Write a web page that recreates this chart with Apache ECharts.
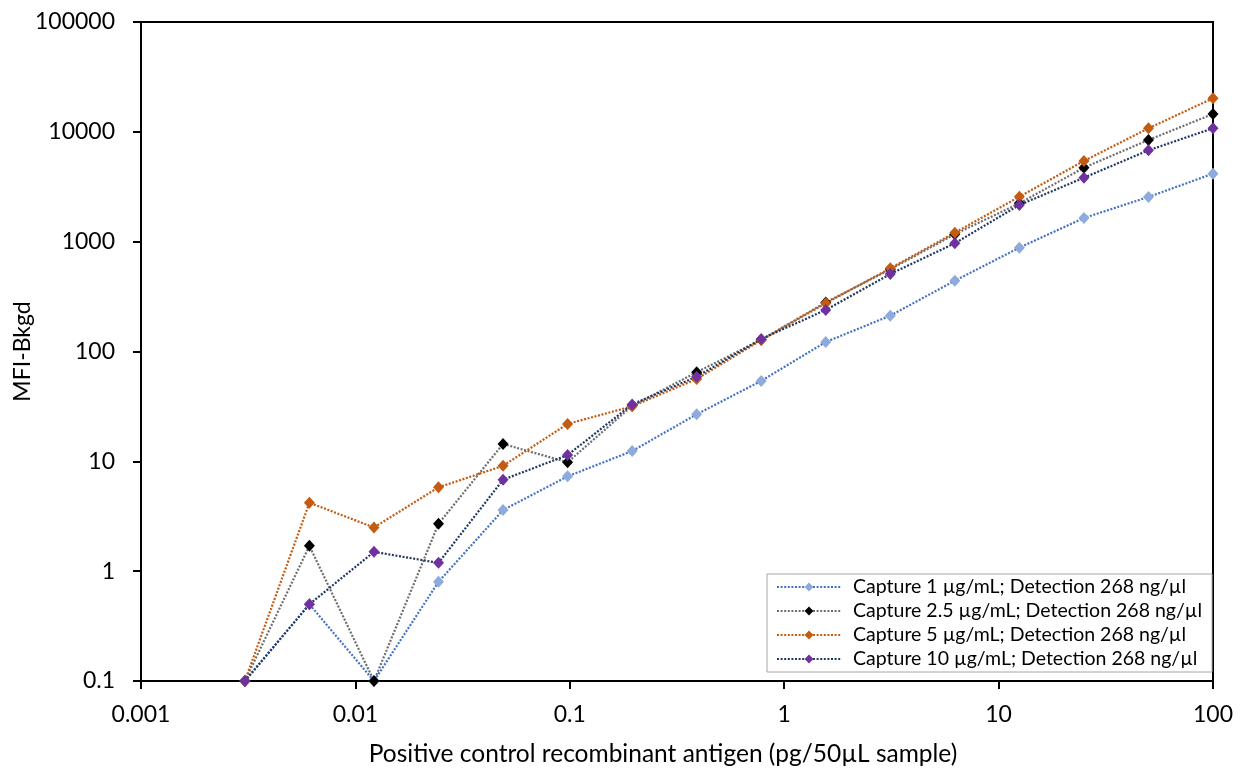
<!DOCTYPE html>
<html>
<head>
<meta charset="utf-8">
<script src="https://cdn.jsdelivr.net/npm/echarts@6/dist/echarts.min.js"></script>
<style>html,body{margin:0;padding:0;background:#fff;}#c{width:1246px;height:770px;}</style>
</head>
<body>
<div id="c"></div>
<script>
// Concentrations (pg/50µL sample)
var xValues = [0.0030517578125, 0.006103515625, 0.01220703125, 0.0244140625, 0.048828125, 0.09765625,
  0.1953125, 0.390625, 0.78125, 1.5625, 3.125, 6.25, 12.5, 25, 50, 100];
var seriesNames = [
  'Capture 1 µg/mL; Detection 268 ng/µl',
  'Capture 2.5 µg/mL; Detection 268 ng/µl',
  'Capture 5 µg/mL; Detection 268 ng/µl',
  'Capture 10 µg/mL; Detection 268 ng/µl'
];
var cap1 = [0.1, 0.5, 0.1, 0.8, 3.6, 7.3, 12.4, 26.8, 54, 122, 212, 441, 882, 1643, 2552, 4160];
var cap25 = [0.1, 1.7, 0.1, 2.7, 14.4, 9.8, 32, 64.7, 128, 280, 560, 1170, 2235, 4716, 8430, 14540];
var cap5 = [0.1, 4.2, 2.5, 5.8, 9.1, 21.9, 31.7, 56.2, 127, 275, 572, 1208, 2568, 5427, 10770, 20200];
var cap10 = [0.1, 0.5, 1.5, 1.19, 6.8, 11.4, 33, 59, 130, 239, 508, 967, 2158, 3823, 6790, 10770];
var xTickLabels = ['0.001', '0.01', '0.1', '1', '10', '100'];
var yTickLabels = ['0.1', '1', '10', '100', '1000', '10000', '100000'];
var xTitle = 'Positive control recombinant antigen (pg/50µL sample)';
var yTitle = 'MFI-Bkgd';

var lineColors = ['#4472C4', '#6E6E6E', '#C55A11', '#203864'];
var markerColors = ['#8FAADC', '#000000', '#C55A11', '#7030A0'];
var allValues = [cap1, cap25, cap5, cap10];

var FONT = 'Lato';
function pairs(vals) {
  return xValues.map(function (x, i) { return [x, vals[i]]; });
}
var series = allValues.map(function (vals, k) {
  return {
    name: seriesNames[k],
    type: 'line',
    data: pairs(vals),
    symbol: 'diamond',
    symbolSize: [11, 12],
    showSymbol: true,
    animation: false,
    lineStyle: { color: lineColors[k], width: 2.2, type: [2, 1.6] },
    itemStyle: { color: markerColors[k], borderWidth: 0 },
    emphasis: { disabled: true }
  };
});

var chart = echarts.init(document.getElementById('c'), null, { renderer: 'canvas' });
chart.setOption({
  backgroundColor: '#ffffff',
  animation: false,
  grid: {
    left: 141, right: 33, top: 22, bottom: 89,
    containLabel: false, outerBoundsMode: 'none',
    show: true, borderColor: '#000', borderWidth: 2, backgroundColor: 'transparent'
  },
  legend: {
    orient: 'vertical',
    left: 767, top: 574,
    width: 441,
    backgroundColor: '#ffffff',
    borderColor: '#A6A6A6', borderWidth: 1,
    padding: [1, 10, 1, 9],
    itemGap: 0,
    itemWidth: 64, itemHeight: 11,
    textStyle: { fontFamily: FONT, fontSize: 19.5, color: '#000', lineHeight: 24, padding: [0, 0, 0, 7] },
    data: seriesNames
  },
  xAxis: {
    type: 'log', logBase: 10, min: 0.001, max: 100,
    axisLine: { show: true, lineStyle: { color: '#000', width: 2 } },
    axisTick: { show: true, length: 8, inside: false, lineStyle: { color: '#000', width: 2 } },
    splitLine: { show: false },
    minorTick: { show: false },
    axisLabel: {
      margin: 22, fontFamily: FONT, fontSize: 23, color: '#000',
      formatter: function (v) { return xTickLabels[Math.round(Math.log10(v)) + 3]; }
    },
    name: xTitle, nameLocation: 'middle', nameGap: 61, nameMoveOverlap: false,
    nameTextStyle: { fontFamily: FONT, fontSize: 24.5, color: '#000', padding: [0, 28, 0, 0] }
  },
  yAxis: {
    type: 'log', logBase: 10, min: 0.1, max: 100000,
    splitNumber: 6,
    axisLine: { show: true, lineStyle: { color: '#000', width: 2 } },
    axisTick: { show: true, length: 8, inside: false, lineStyle: { color: '#000', width: 2 } },
    splitLine: { show: false },
    axisLabel: {
      margin: 26, fontFamily: FONT, fontSize: 23, color: '#000',
      formatter: function (v) { return yTickLabels[Math.round(Math.log10(v)) + 1]; }
    },
    name: yTitle, nameLocation: 'middle', nameGap: 107, nameRotate: 90, nameMoveOverlap: false,
    nameTextStyle: { fontFamily: FONT, fontSize: 23, color: '#000' }
  },
  series: series
});
</script>
</body>
</html>
